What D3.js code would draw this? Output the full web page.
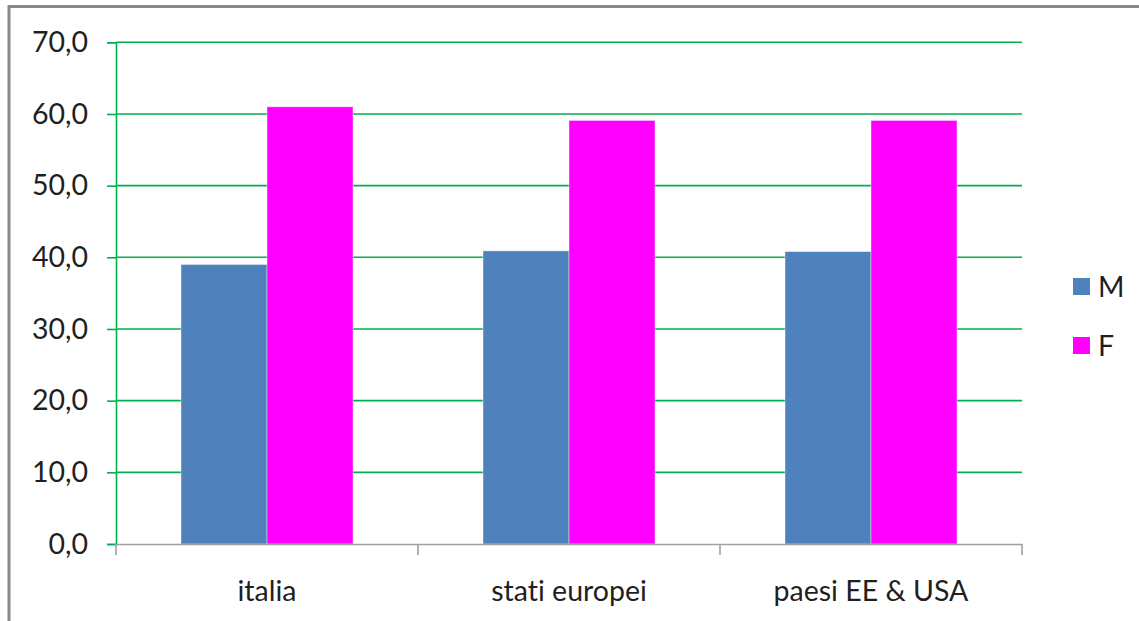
<!DOCTYPE html>
<html><head><meta charset="utf-8">
<script src="https://cdn.jsdelivr.net/npm/d3@7"></script>
<style>body{margin:0;background:#fff}svg{display:block}text{font-variant-ligatures:none;font-feature-settings:"liga" 0}</style>
</head><body>
<svg id="c" width="1139" height="621"></svg>
<script>
const categories = ["italia", "stati europei", "paesi EE & USA"];
const seriesNames = ["M", "F"];
const valuesM = [39.0, 40.9, 40.8];
const valuesF = [61.0, 59.1, 59.1];
const yTicks = [0, 10, 20, 30, 40, 50, 60, 70];
const colors = ["#4f81bd", "#ff00ff"];

const svg = d3.select("#c");
const font = "Lato, 'Open Sans', sans-serif";
const fs = 28.5;
const green = "#00b050";

// outer frame
svg.append("rect").attr("x", 9).attr("y", 6.5).attr("width", 1300).attr("height", 800)
  .attr("fill", "none").attr("stroke", "#8a8a8a").attr("stroke-width", 3);

const pLeft = 116, pRight = 1022, pTop = 42.3, pBottom = 544;
const y = d3.scaleLinear().domain([0, 70]).range([pBottom, pTop]);
const x0 = d3.scaleBand().domain(categories).range([pLeft, pRight]).padding(0);
const x1 = d3.scaleBand().domain(seriesNames).range([0, x0.bandwidth()]).paddingInner(0).paddingOuter(0.756);

// gridlines
svg.append("g").selectAll("line").data(yTicks.filter(d => d > 0)).join("line")
  .attr("x1", pLeft).attr("x2", pRight)
  .attr("y1", d => y(d)).attr("y2", d => y(d))
  .attr("stroke", green).attr("stroke-width", 1.6);

// bars
const data = categories.map((c, i) => ({cat: c, vals: [valuesM[i], valuesF[i]]}));
const g = svg.append("g");
data.forEach(d => {
  seriesNames.forEach((s, j) => {
    g.append("rect")
      .attr("x", x0(d.cat) + x1(s))
      .attr("y", y(d.vals[j]))
      .attr("width", x1.bandwidth())
      .attr("height", y(0) - y(d.vals[j]))
      .attr("fill", colors[j])
      .attr("stroke", "rgba(255,255,255,0.5)").attr("stroke-width", 0.8);
  });
});

// y axis
const yAxis = d3.axisLeft(y).tickValues(yTicks).tickSize(9).tickPadding(19)
  .tickFormat(d => d3.format(".1f")(d).replace(".", ","));
const ya = svg.append("g").attr("transform", `translate(${pLeft},0)`).call(yAxis);
ya.select(".domain").attr("stroke", green).attr("stroke-width", 1.6);
ya.selectAll(".tick line").attr("stroke", green).attr("stroke-width", 1.6);
ya.selectAll("text").attr("font-family", font).attr("font-size", fs).attr("fill", "#1f1f1f");

// x axis
const xa = svg.append("g").attr("transform", `translate(0,${pBottom})`)
  .call(d3.axisBottom(x0).tickSize(0).tickPadding(37));
xa.select(".domain").attr("stroke", "#a0a0a0").attr("stroke-width", 1.6);
xa.selectAll("text").attr("font-family", font).attr("font-size", fs).attr("fill", "#1f1f1f");
const bounds = [pLeft].concat(categories.map(c => x0(c) + x0.bandwidth()));
xa.append("g").selectAll("line").data(bounds).join("line")
  .attr("x1", d => d).attr("x2", d => d).attr("y1", 0).attr("y2", 11)
  .attr("stroke", "#a0a0a0").attr("stroke-width", 1.6);

// legend
const lg = svg.append("g");
seriesNames.forEach((s, j) => {
  const ly = 278 + j * 59;
  lg.append("rect").attr("x", 1073).attr("y", ly).attr("width", 17).attr("height", 17).attr("fill", colors[j]);
  lg.append("text").attr("x", 1098).attr("y", ly + 19).text(s)
    .attr("font-family", font).attr("font-size", fs).attr("fill", "#1f1f1f");
});
</script>
</body></html>
